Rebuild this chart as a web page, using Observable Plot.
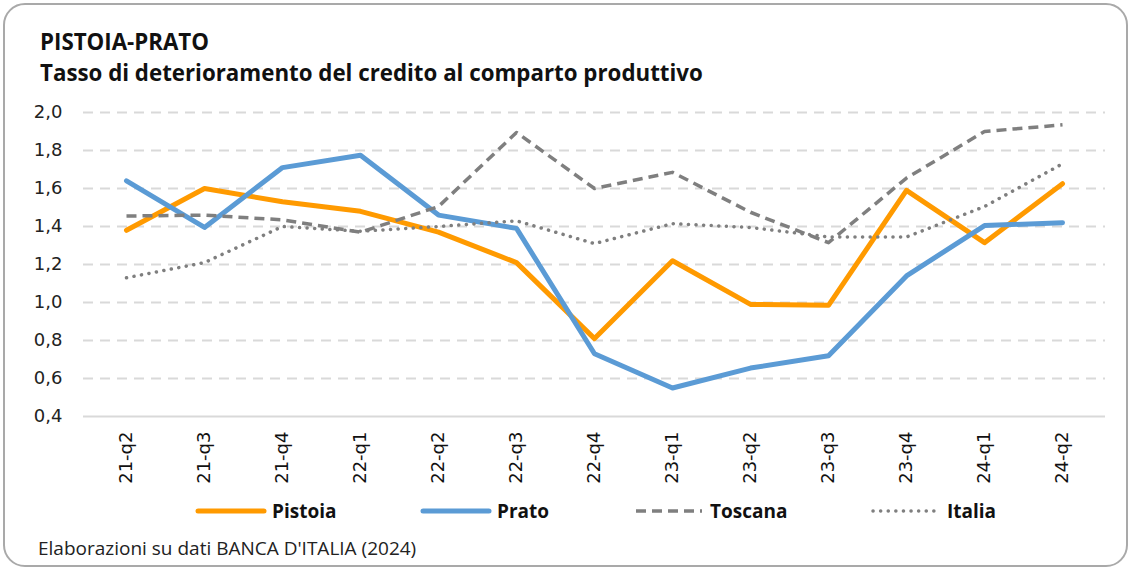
<!DOCTYPE html>
<html>
<head>
<meta charset="utf-8">
<script src="https://cdn.jsdelivr.net/npm/d3@7"></script>
<script src="https://cdn.jsdelivr.net/npm/@observablehq/plot@0.6"></script>
<style>
  html, body { margin: 0; padding: 0; background: #fff; }
  #wrap { position: relative; width: 1130px; height: 569px; overflow: hidden; font-family: "Open Sans", sans-serif; }
  #frame { position: absolute; left: 3px; top: 3px; width: 1125px; height: 564px; box-sizing: border-box; border: 2px solid #a9a9a9; border-radius: 22px; }
  #title { position: absolute; left: 40px; top: 27px; font-size: 22.3px; font-weight: 700; color: #111; line-height: 30px; }
  #subtitle { position: absolute; left: 40px; top: 58px; font-size: 22.3px; font-weight: 700; color: #111; line-height: 30px; }
  #chart { position: absolute; left: 0; top: 95px; }
  #legend { position: absolute; top: 499px; left: 0; width: 1130px; height: 24px; }
  .item { position: absolute; top: 0; display: flex; align-items: center; height: 24px; font-size: 19px; font-weight: 700; color: #111; }
  .item svg { margin-right: 5px; }
  #caption { position: absolute; left: 38px; top: 535px; font-size: 19px; color: #222; line-height: 26px; }
  #chart svg text { font-family: "DejaVu Sans", sans-serif; }
</style>
</head>
<body>
<div id="wrap">
  <div id="frame"></div>
  <div id="title">PISTOIA-PRATO</div>
  <div id="subtitle">Tasso di deterioramento del credito al comparto produttivo</div>
  <div id="chart"></div>
  <div id="legend"></div>
  <div id="caption">Elaborazioni su dati BANCA D'ITALIA (2024)</div>
</div>
<script>
const quarters = ["21-q2","21-q3","21-q4","22-q1","22-q2","22-q3","22-q4","23-q1","23-q2","23-q3","23-q4","24-q1","24-q2"];
const pistoia = [1.38, 1.60, 1.53, 1.48, 1.37, 1.21, 0.81, 1.22, 0.99, 0.985, 1.59, 1.315, 1.625];
const prato   = [1.64, 1.395, 1.71, 1.775, 1.46, 1.39, 0.73, 0.55, 0.655, 0.72, 1.14, 1.405, 1.42];
const toscana = [1.455, 1.46, 1.435, 1.37, 1.505, 1.895, 1.60, 1.685, 1.475, 1.315, 1.655, 1.90, 1.935];
const italia  = [1.13, 1.21, 1.40, 1.375, 1.40, 1.43, 1.31, 1.415, 1.395, 1.345, 1.345, 1.505, 1.73];
const yTicks = [0.4, 0.6, 0.8, 1.0, 1.2, 1.4, 1.6, 1.8, 2.0];

const seriesNames = ["Pistoia", "Prato", "Toscana", "Italia"];
const seriesValues = [pistoia, prato, toscana, italia];
const styles = {
  Pistoia: {stroke: "#FF9A00", strokeWidth: 5, strokeDasharray: null, strokeLinecap: "round"},
  Prato:   {stroke: "#5B9BD5", strokeWidth: 5, strokeDasharray: null, strokeLinecap: "round"},
  Toscana: {stroke: "#7F7F7F", strokeWidth: 3.5, strokeDasharray: "10,6", strokeLinecap: "butt"},
  Italia:  {stroke: "#7F7F7F", strokeWidth: 3.5, strokeDasharray: "0.1,7.5", strokeLinecap: "round"}
};
const rows = seriesNames.map((name, s) => seriesValues[s].map((v, i) => ({series: name, q: quarters[i], v})));

const fmt = d => d.toFixed(1).replace(".", ",");

const chart = Plot.plot({
  width: 1130,
  height: 395,
  marginTop: 17,
  marginBottom: 74,
  marginLeft: 83,
  marginRight: 25,
  style: {fontFamily: "DejaVu Sans, sans-serif", background: "transparent"},
  x: {type: "point", domain: quarters, padding: 0.5},
  y: {domain: [0.4, 2.0], ticks: yTicks},
  marks: [
    Plot.ruleY(yTicks.filter(t => t > 0.4), {stroke: "#d9d9d9", strokeWidth: 2, strokeDasharray: "10,7"}),
    Plot.ruleY([0.4], {stroke: "#d9d9d9", strokeWidth: 2}),
    ...rows.map((data, s) => Plot.line(data, {
      x: "q", y: "v",
      stroke: styles[seriesNames[s]].stroke,
      strokeWidth: styles[seriesNames[s]].strokeWidth,
      strokeDasharray: styles[seriesNames[s]].strokeDasharray,
      strokeLinecap: styles[seriesNames[s]].strokeLinecap,
      strokeLinejoin: "round"
    })),
    Plot.axisY(yTicks, {tickSize: 0, tickPadding: 21, tickFormat: fmt, fontSize: 18, fill: "#222", label: null}),
    Plot.axisX({tickSize: 0, tickPadding: 15, tickRotate: -90, fontSize: 18, fill: "#111", label: null})
  ]
});
document.getElementById("chart").appendChild(chart);

// legend
const legendX = [195, 420, 633, 870];
const legend = document.getElementById("legend");
seriesNames.forEach((name, s) => {
  const st = styles[name];
  const item = document.createElement("div");
  item.className = "item";
  item.style.left = legendX[s] + "px";
  const ns = "http://www.w3.org/2000/svg";
  const svg = document.createElementNS(ns, "svg");
  svg.setAttribute("width", 72);
  svg.setAttribute("height", 12);
  const line = document.createElementNS(ns, "line");
  line.setAttribute("x1", 3); line.setAttribute("x2", 69);
  line.setAttribute("y1", 6); line.setAttribute("y2", 6);
  line.setAttribute("stroke", st.stroke);
  line.setAttribute("stroke-width", st.strokeWidth);
  line.setAttribute("stroke-linecap", st.strokeLinecap);
  if (st.strokeDasharray) line.setAttribute("stroke-dasharray", st.strokeDasharray);
  svg.appendChild(line);
  item.appendChild(svg);
  const t = document.createElement("span");
  t.textContent = name;
  item.appendChild(t);
  legend.appendChild(item);
});
</script>
</body>
</html>
